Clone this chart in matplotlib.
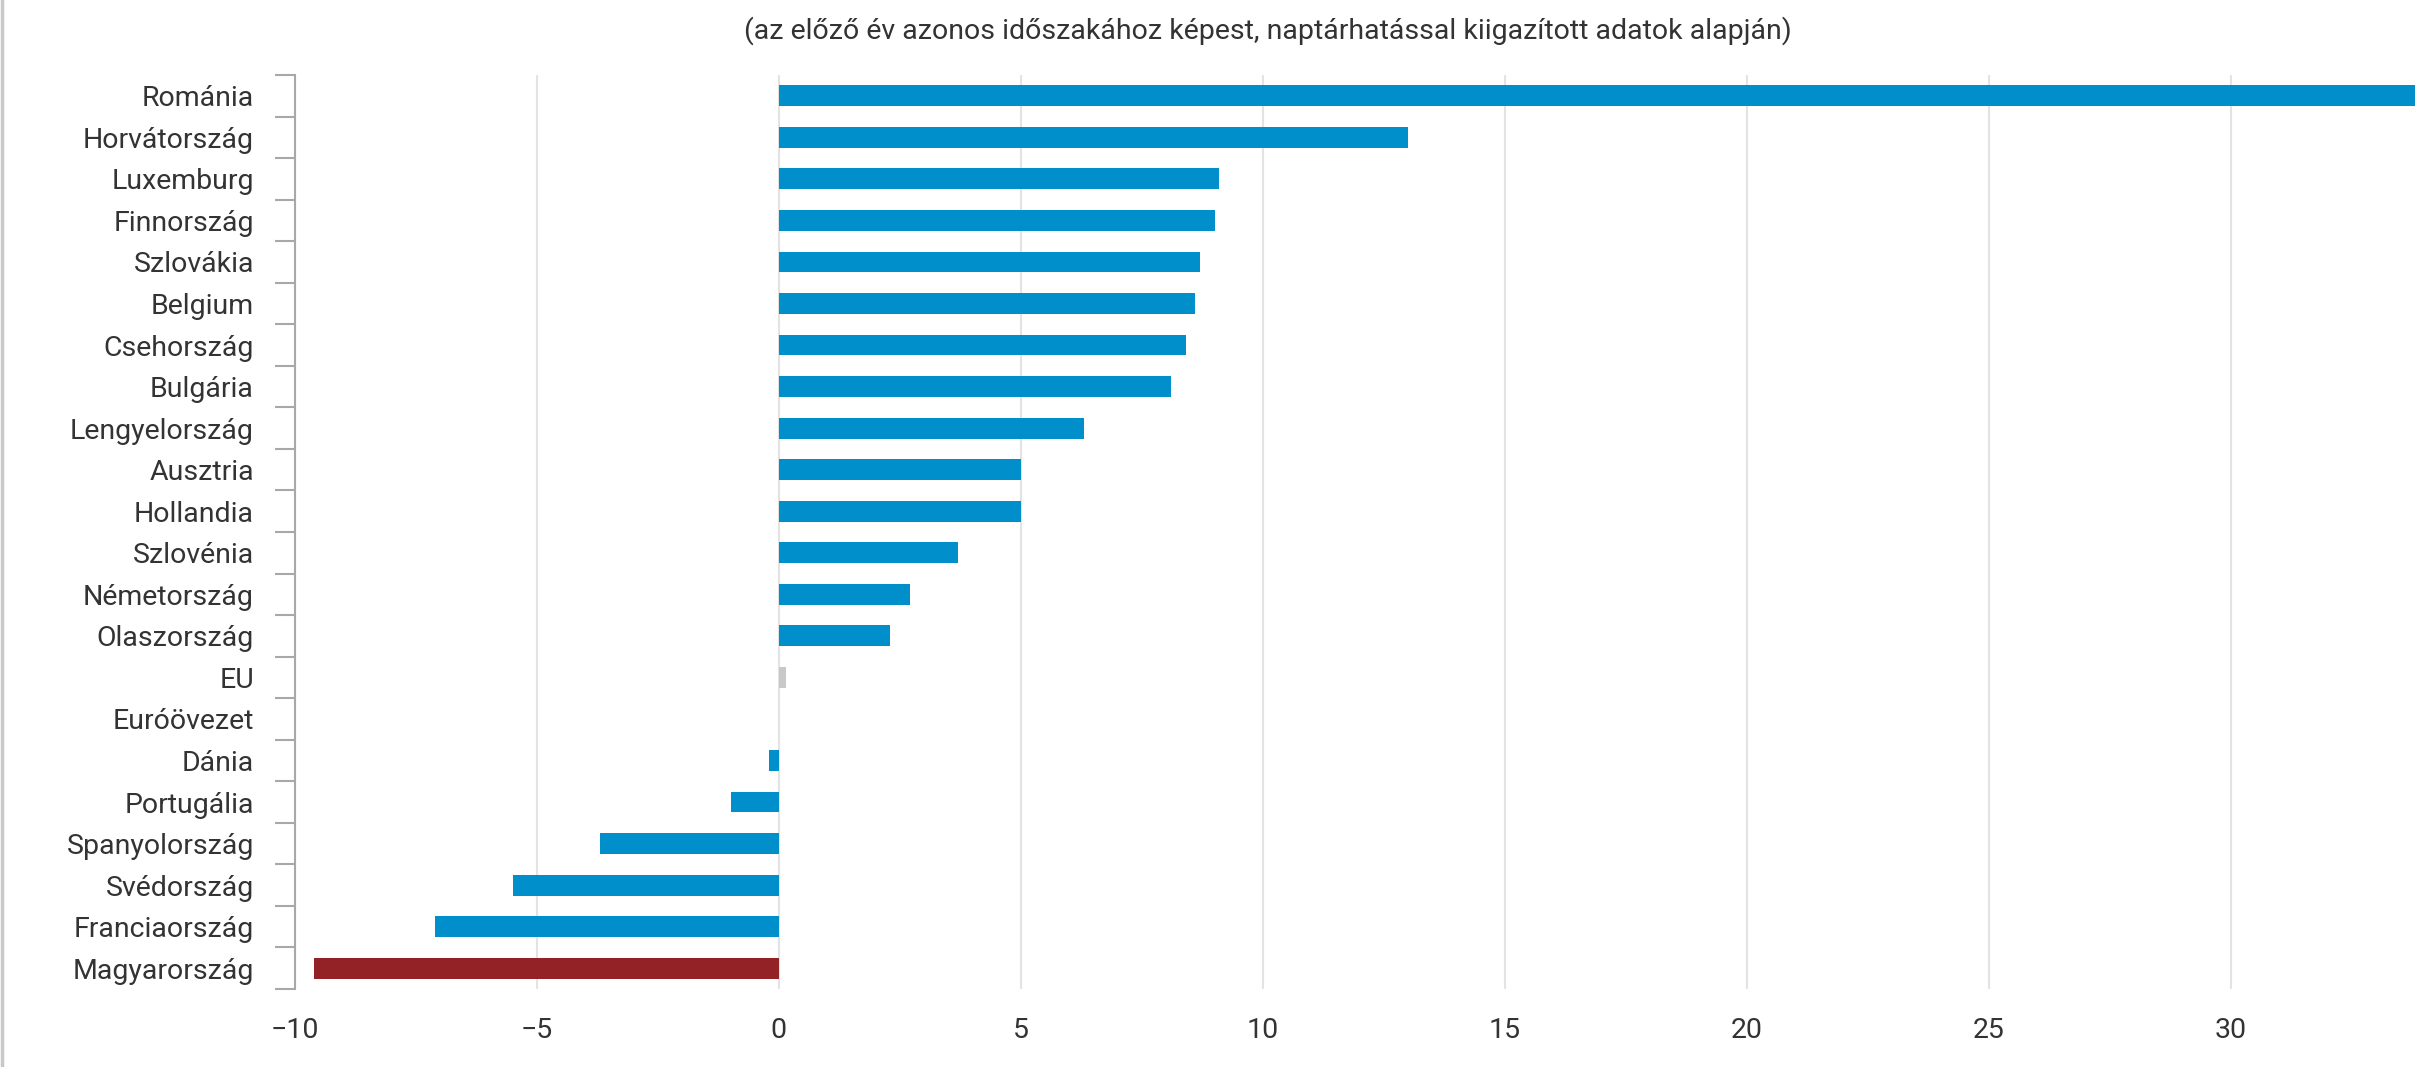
import numpy as np
import matplotlib
matplotlib.use("Agg")
import matplotlib.pyplot as plt
from matplotlib.lines import Line2D

plt.rcParams['font.family'] = ['Roboto', 'DejaVu Sans']

# data (top to bottom as in the chart)
countries = ["Románia", "Horvátország", "Luxemburg", "Finnország", "Szlovákia",
             "Belgium", "Csehország", "Bulgária", "Lengyelország", "Ausztria",
             "Hollandia", "Szlovénia", "Németország", "Olaszország", "EU",
             "Euróövezet", "Dánia", "Portugália", "Spanyolország", "Svédország",
             "Franciaország", "Magyarország"]
values = [33.8, 13.0, 9.1, 9.0, 8.7,
          8.6, 8.4, 8.1, 6.3, 5.0,
          5.0, 3.7, 2.7, 2.3, 0.15,
          0.0, -0.2, -1.0, -3.7, -5.5,
          -7.1, -9.6]
xticks = [-10, -5, 0, 5, 10, 15, 20, 25, 30]
subtitle = "(az előző év azonos időszakához képest, naptárhatással kiigazított adatok alapján)"

blue = "#008fcb"
red = "#932226"
grey_bar = "#c8c8c8"
colors = []
for c in countries:
    if c == "Magyarország":
        colors.append(red)
    elif c in ("EU", "Euróövezet"):
        colors.append(grey_bar)
    else:
        colors.append(blue)

fs = 20.5
fig = plt.figure(figsize=(24.31, 10.67), dpi=100)
ax = fig.add_axes([0.1213, 0.0731, 0.8721, 0.8566])

y = np.arange(len(countries))
ax.barh(y, values, height=0.5, color=colors, zorder=3)

ax.set_ylim(len(countries) - 0.5, -0.5)
ax.set_xlim(-10, max(values))

ax.set_yticks(y)
ax.set_yticklabels(countries)
ax.set_yticks(np.arange(len(countries) + 1) - 0.5, minor=True)
ax.tick_params(axis='y', which='major', length=0, pad=29.5, labelsize=fs, labelcolor="#333333")
ax.tick_params(axis='y', which='minor', length=14.4, width=1.5, color="#a8a8a8", direction='out')

ax.set_xticks(xticks)
ax.set_xticklabels([("\u2212" + str(-t)) if t < 0 else str(t) for t in xticks])
ax.tick_params(axis='x', length=0, pad=20.5, labelsize=fs, labelcolor="#333333")

ax.grid(axis='x', color="#e3e3e3", linewidth=1.5, zorder=0)
ax.set_axisbelow(True)
for s in ("top", "right", "bottom"):
    ax.spines[s].set_visible(False)
ax.spines["left"].set_color("#a8a8a8")
ax.spines["left"].set_linewidth(1.5)
ax.spines["left"].set_zorder(4)

fig.text(0.5216, 0.9715, subtitle, ha='center', va='center', fontsize=fs, color="#333333")

# screenshot frame line on the left
fig.add_artist(Line2D([0.0008, 0.0008], [0, 1], color="#c8c8c8", linewidth=2.5))

fig.savefig("out.png", dpi=100, facecolor="white")
